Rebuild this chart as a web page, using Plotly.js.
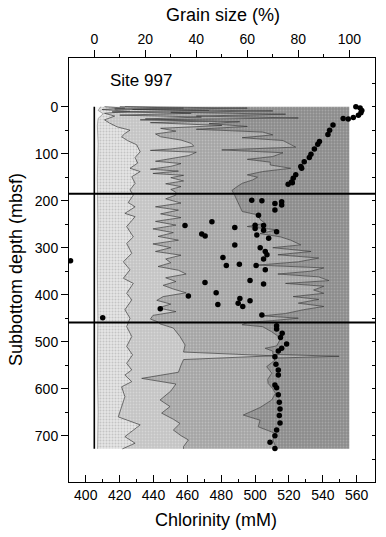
<!DOCTYPE html>
<html>
<head>
<meta charset="utf-8">
<script src="https://cdn.plot.ly/plotly-3.0.1.min.js"></script>
<style>
html,body{margin:0;padding:0;background:#fff;}
#chart{width:386px;height:537px;}
</style>
</head>
<body>
<div id="chart"></div>
<script>
// ---------- Grain size boundaries (cumulative %, top axis) ----------
const depthB1 = [0, 8, 15, 25, 40, 80, 150, 250, 350, 450, 550, 650, 728];
const grainB1 = [2.5, 1.5, 3.5, 1.5, 1.2, 1.5, 1.2, 1.4, 1.2, 1.4, 1.2, 1.5, 1.3];

const depthB2 = [0, 3, 6, 10, 14, 20, 28, 35, 43, 50, 57, 64, 72, 81, 96, 108, 120, 131, 138, 149, 163, 177, 188, 204, 213, 227, 234, 255, 277, 291, 312, 330, 347, 365, 376, 397, 411, 432, 450, 468, 489, 510, 528, 546, 560, 571, 585, 596, 617, 638, 660, 677, 702, 716, 728];
const grainB2 = [4, 12, 3, 14, 4, 8, 4, 6, 9, 14, 12, 10.7, 13, 16.6, 18, 16, 17, 14, 18, 14.7, 16, 14, 15.3, 13.3, 16, 12, 16, 12.7, 15.3, 12.7, 14.7, 11.4, 14, 11.4, 15.3, 12.7, 14.7, 12, 14, 12.7, 14.7, 12.7, 15, 12.7, 14.7, 12, 14.7, 10.7, 12, 10.7, 9.4, 18, 12, 16, 11];

const depthB3 = [0, 3, 5, 8, 11, 14, 18, 22, 26, 30, 34, 40, 46, 52, 58, 64, 71, 78, 84, 90, 93, 97, 104, 110, 116, 121, 127, 133, 137, 142, 146, 151, 158, 164, 170, 176, 182, 188, 196, 205, 213, 220, 228, 236, 244, 252, 260, 268, 276, 284, 292, 300, 308, 316, 324, 332, 340, 348, 356, 364, 372, 380, 388, 396, 404, 412, 420, 428, 436, 444, 452, 458, 462, 471, 489, 507, 522, 530, 538, 550, 565, 578, 590, 605, 624, 638, 652, 665, 674, 688, 700, 709, 723, 728];
const grainB3 = [10, 35, 8, 45, 7, 38, 10, 42, 20, 48, 22, 50, 26, 32, 24, 26, 34, 38, 39, 30, 22, 40, 37, 31, 24, 34, 30, 22, 33, 23, 35, 30, 35, 28, 34, 30, 32, 32, 28, 34, 24, 33, 26, 34, 24, 32, 23, 31, 25, 33, 23, 30, 24, 34, 28, 30, 25, 33, 36, 28, 32, 27, 31, 36, 27, 24.5, 30, 25, 32, 23, 22, 25, 25.7, 31, 33.6, 35.6, 35, 70, 35, 34, 33, 18.6, 32, 30, 25.8, 29.7, 26.4, 31, 33.6, 31, 34, 36.9, 35, 35];

const depthB4 = [0, 3, 6, 9, 12, 16, 20, 24, 28, 32, 36, 42, 48, 54, 60, 66, 72, 80, 86, 92, 98, 106, 112, 118, 124, 131, 138, 145, 150, 156, 163, 170, 178, 188, 200, 212, 223, 230, 240, 248, 255, 262, 270, 277, 284, 294, 300, 308, 315, 322, 330, 337, 343, 350, 356, 362, 370, 376, 382, 390, 397, 404, 410, 418, 425, 432, 440, 445, 450, 455, 459, 464, 468, 479, 488, 496, 509, 514, 520, 527, 531, 535, 539, 553, 567, 580, 589, 600, 610, 624, 640, 656, 667, 681, 695, 709, 728];
const grainB4 = [12, 60, 15, 70, 30, 75, 40, 80, 18, 57, 45, 60, 40, 66, 70, 58, 74, 77, 79, 50, 74, 70, 60, 69, 69, 77, 66, 60, 64, 62, 58, 56, 54, 55, 56, 57, 58, 64, 65, 67, 60, 71.5, 65, 73, 77, 81, 70, 85, 72, 88, 80, 64, 90, 85, 72, 88, 92, 75, 90, 86, 90, 78, 88, 80, 90, 82, 75, 66, 80, 70, 60, 58, 66, 69.6, 72, 72.8, 71.5, 67, 70, 70, 96, 70, 70.9, 67.6, 69.6, 68, 68.2, 70, 71, 69.6, 65, 58.4, 65, 64.3, 71, 70, 71.5];

const areaDepthSpan = [0, 728];

// ---------- Chlorinity pore-water data (bottom axis) ----------
const chlorinity = [
  559.5, 562, 563, 562.5, 561, 558, 555, 552,
  546, 544, 543, 538, 537, 535, 533, 532, 529, 527, 527.5, 524, 522.5, 521.5, 519.5, 522,
  498, 504, 511.7, 515.7, 515.7, 511.7, 502, 474.5, 458.6, 488, 500, 500, 505, 505, 468.5, 470.5,
  501, 508, 512.7, 488, 503, 506, 507, 481, 505, 483, 490.7, 500.6, 506, 470.4, 497, 505,
  477, 460.6, 491, 497, 478, 490, 492.7, 504, 444, 410, 391,
  512.7, 512.7, 516, 515, 518.6, 515.7, 513.7, 511.7, 512.3, 513.7, 513.7, 511.7, 512.7,
  513.7, 514.3, 514.7, 514.3, 514.7, 512.7, 511.7, 508.8, 511.7
];
const chlorDepth = [
  0, 3, 8, 13, 18, 23, 26, 25,
  39, 50, 59, 74, 80, 90, 101, 108, 117, 127, 131, 145, 152, 160, 165, 162,
  199, 200, 206, 202, 209, 220, 231, 245, 253, 257, 252, 259, 253, 263, 271, 275,
  273, 280, 266, 294, 300, 308, 315, 321, 324, 338, 335, 338, 347, 374, 370, 377,
  396, 403, 408, 413, 421, 418, 425, 443, 430, 449, 328,
  466, 473, 482, 491, 505, 514, 520, 532, 548, 560, 571, 592, 598,
  613, 629, 643, 657, 673, 688, 700, 714, 727
];

// ---------- Axis ticks ----------
const chlorTicks = [400, 420, 440, 460, 480, 500, 520, 540, 560];
const chlorMinor = [410, 430, 450, 470, 490, 510, 530, 550];
const grainTicks = [0, 20, 40, 60, 80, 100];
const grainMinor = [10, 30, 50, 70, 90];
const depthTicks = [0, 100, 200, 300, 400, 500, 600, 700];
const depthMinor = [50, 150, 250, 350, 450, 550, 650];
const depthRight = [-50, 0, 50, 100, 150, 200, 250, 300, 350, 400, 450, 500, 550, 600, 650, 700, 750];
const unitBoundaries = [185, 459];

const lineStyle = {color: '#3a3a3a', width: 0.7};
function stipple(bg, fg, sol) {
  return {shape: '.', bgcolor: bg, fgcolor: fg, size: 3, solidity: sol};
}
// grain-size areas on xaxis (top); chlorinity points on xaxis2 (bottom, drawn above)
const traces = [
  {x: [0, 0], y: areaDepthSpan, xaxis: 'x', yaxis: 'y', mode: 'lines',
   line: {color: '#000', width: 1.6}, hoverinfo: 'skip'},
  {x: grainB1, y: depthB1, xaxis: 'x', yaxis: 'y', mode: 'lines', fill: 'tonextx',
   fillcolor: '#f8f8f8', line: {color: '#777', width: 0.6}, hoverinfo: 'skip'},
  {x: grainB2, y: depthB2, xaxis: 'x', yaxis: 'y', mode: 'lines', fill: 'tonextx',
   fillcolor: '#e2e2e2', fillpattern: stipple('#e6e6e6', '#c4c4c4', 0.35), line: lineStyle, hoverinfo: 'skip'},
  {x: grainB3, y: depthB3, xaxis: 'x', yaxis: 'y', mode: 'lines', fill: 'tonextx',
   fillcolor: '#c5c5c5', fillpattern: stipple('#c4c4c4', '#d6d6d6', 0.3), line: lineStyle, hoverinfo: 'skip'},
  {x: grainB4, y: depthB4, xaxis: 'x', yaxis: 'y', mode: 'lines', fill: 'tonextx',
   fillcolor: '#a7a7a7', fillpattern: stipple('#a5a5a5', '#bdbdbd', 0.3), line: lineStyle, hoverinfo: 'skip'},
  {x: [100, 100], y: areaDepthSpan, xaxis: 'x', yaxis: 'y', mode: 'lines', fill: 'tonextx',
   fillcolor: '#8f8f8f', fillpattern: stipple('#8c8c8c', '#a6a6a6', 0.3), line: {width: 0}, hoverinfo: 'skip'},
  {x: chlorinity, y: chlorDepth, xaxis: 'x2', yaxis: 'y', mode: 'markers',
   marker: {color: '#000', size: 5.5}, hoverinfo: 'skip'},
  {x: [chlorTicks[0]], y: [depthRight[1]], xaxis: 'x2', yaxis: 'y2', mode: 'markers',
   marker: {opacity: 0}, hoverinfo: 'skip'}
];

const yRange = [798.5, -103.6];
const axCommon = {showgrid: false, zeroline: false, showline: true, linecolor: '#000',
  linewidth: 1, tickcolor: '#000', tickwidth: 1, tickfont: {size: 14, color: '#000'}};

const layout = {
  width: 386, height: 537,
  margin: {l: 69, r: 11, t: 58, b: 55, pad: 0},
  paper_bgcolor: '#fff', plot_bgcolor: '#fff',
  showlegend: false,
  font: {family: 'Liberation Sans, Arial, Helvetica, sans-serif', color: '#000', size: 14},
  xaxis: Object.assign({}, axCommon, {
    range: [-9.92, 110.08], side: 'top', ticks: 'outside', ticklen: 7,
    tickmode: 'array', tickvals: grainTicks, ticktext: grainTicks.map(String),
    minor: {tickmode: 'array', tickvals: grainMinor, ticks: 'outside', ticklen: 3.5, tickcolor: '#000', showgrid: false}
  }),
  xaxis2: Object.assign({}, axCommon, {
    range: [390.1, 570.8], side: 'bottom', overlaying: 'x', ticks: 'inside', ticklen: 7,
    tickmode: 'array', tickvals: chlorTicks, ticktext: chlorTicks.map(String),
    minor: {tickmode: 'array', tickvals: chlorMinor, ticks: 'inside', ticklen: 3.5, tickcolor: '#000', showgrid: false}
  }),
  yaxis: Object.assign({}, axCommon, {
    range: yRange, ticks: 'outside', ticklen: 7,
    tickmode: 'array', tickvals: depthTicks, ticktext: depthTicks.map(String),
    minor: {tickmode: 'array', tickvals: depthMinor, ticks: 'outside', ticklen: 3.5, tickcolor: '#000', showgrid: false}
  }),
  yaxis2: Object.assign({}, axCommon, {
    range: yRange, overlaying: 'y', side: 'right', ticks: 'inside', ticklen: 3.5,
    tickmode: 'array', tickvals: depthRight, showticklabels: false
  }),
  shapes: unitBoundaries.map(d => ({type: 'line', xref: 'paper', x0: 0, x1: 1, yref: 'y', y0: d, y1: d,
    line: {color: '#000', width: 2}})),
  annotations: [
    {text: 'Grain size (%)', xref: 'paper', yref: 'paper', x: 0.503, y: 1.1014,
     xanchor: 'center', yanchor: 'middle', showarrow: false, font: {size: 18}},
    {text: 'Chlorinity (mM)', xref: 'paper', yref: 'paper', x: 0.480, y: -0.0896,
     xanchor: 'center', yanchor: 'middle', showarrow: false, font: {size: 18}},
    {text: 'Subbottom depth (mbsf)', xref: 'paper', yref: 'paper', x: -0.173, y: 0.5,
     xanchor: 'center', yanchor: 'middle', textangle: -90, showarrow: false, font: {size: 18}},
    {text: 'Site 997', xref: 'paper', yref: 'paper', x: 0.1275, y: 0.948,
     xanchor: 'left', yanchor: 'middle', showarrow: false, font: {size: 17}}
  ]
};

Plotly.newPlot('chart', traces, layout, {staticPlot: true, displayModeBar: false});
</script>
</body>
</html>
